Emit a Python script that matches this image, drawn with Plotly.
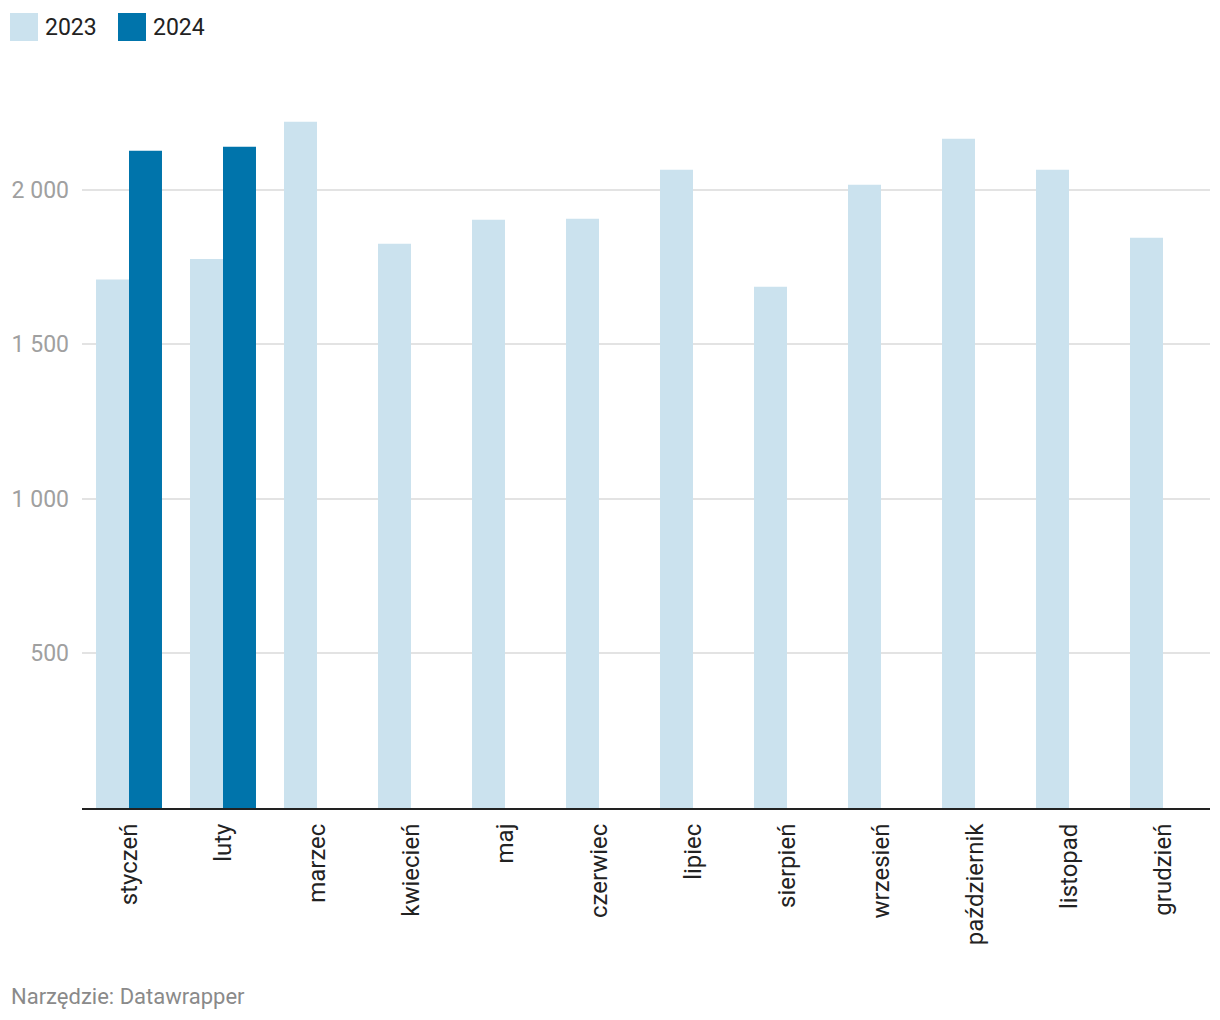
import plotly.graph_objects as go

months = ["styczeń", "luty", "marzec", "kwiecień", "maj", "czerwiec", "lipiec",
          "sierpień", "wrzesień", "październik", "listopad", "grudzień"]
series_names = ["2023", "2024"]
values_2023 = [1710, 1776, 2220, 1825, 1903, 1906, 2065, 1686, 2016, 2165, 2065, 1845]
values_2024 = [2126, 2139, None, None, None, None, None, None, None, None, None, None]
y_tickvals = [500, 1000, 1500, 2000]
y_ticktext = ["500", "1 000", "1 500", "2 000"]
source_text = "Narzędzie: Datawrapper"

colors = ["#cbe2ee", "#0074ab"]

W, H = 1220, 1020
L, R, T, B = 82, 10, 97, 212
pw, ph = W - L - R, H - T - B


def px_x(x):
    return (x - L) / pw


def px_y(y):
    return (H - B - y) / ph


fig = go.Figure()
fig.add_trace(go.Bar(x=months, y=values_2023, name=series_names[0],
                     marker=dict(color=colors[0], line=dict(width=0))))
fig.add_trace(go.Bar(x=months, y=values_2024, name=series_names[1],
                     marker=dict(color=colors[1], line=dict(width=0))))

shapes = []
annotations = []
legend_pos = [(10, 44), (118, 152)]
for (sx, tx), name, c in zip(legend_pos, series_names, colors):
    shapes.append(dict(type="rect", xref="paper", yref="paper",
                       x0=px_x(sx), x1=px_x(sx + 28), y0=px_y(41), y1=px_y(13),
                       fillcolor=c, line=dict(width=0), layer="above"))
    annotations.append(dict(text=name, xref="paper", yref="paper",
                            x=px_x(tx - 1), y=px_y(27), xanchor="left", yanchor="middle",
                            showarrow=False, font=dict(size=23, color="#222222")))

annotations.append(dict(text=source_text, xref="paper", yref="paper",
                        x=px_x(9), y=px_y(996), xanchor="left", yanchor="middle",
                        showarrow=False, font=dict(size=22, color="#8a8a8a")))

fig.update_layout(
    width=W, height=H,
    margin=dict(l=L, r=R, t=T, b=B, pad=0),
    paper_bgcolor="white", plot_bgcolor="white",
    font=dict(family="Roboto", size=23, color="#222222"),
    barmode="group", bargap=0.298, bargroupgap=0,
    showlegend=False,
    shapes=shapes, annotations=annotations,
    xaxis=dict(
        showgrid=False, showline=True, linecolor="#222222", linewidth=2,
        tickangle=-90, ticks="outside", ticklen=0, ticklabelstandoff=4,
        tickfont=dict(size=24, color="#222222"), zeroline=False,
    ),
    yaxis=dict(
        range=[0, 2300], tickvals=y_tickvals, ticktext=y_ticktext,
        showgrid=True, gridcolor="#e3e3e3", gridwidth=2,
        zeroline=False, showline=False, ticks="", ticklabelstandoff=12,
        tickfont=dict(size=23, color="#a0a0a0"),
    ),
)

fig.write_html("out.html", config={"displayModeBar": False},
               post_script="document.body.style.margin='0';")
